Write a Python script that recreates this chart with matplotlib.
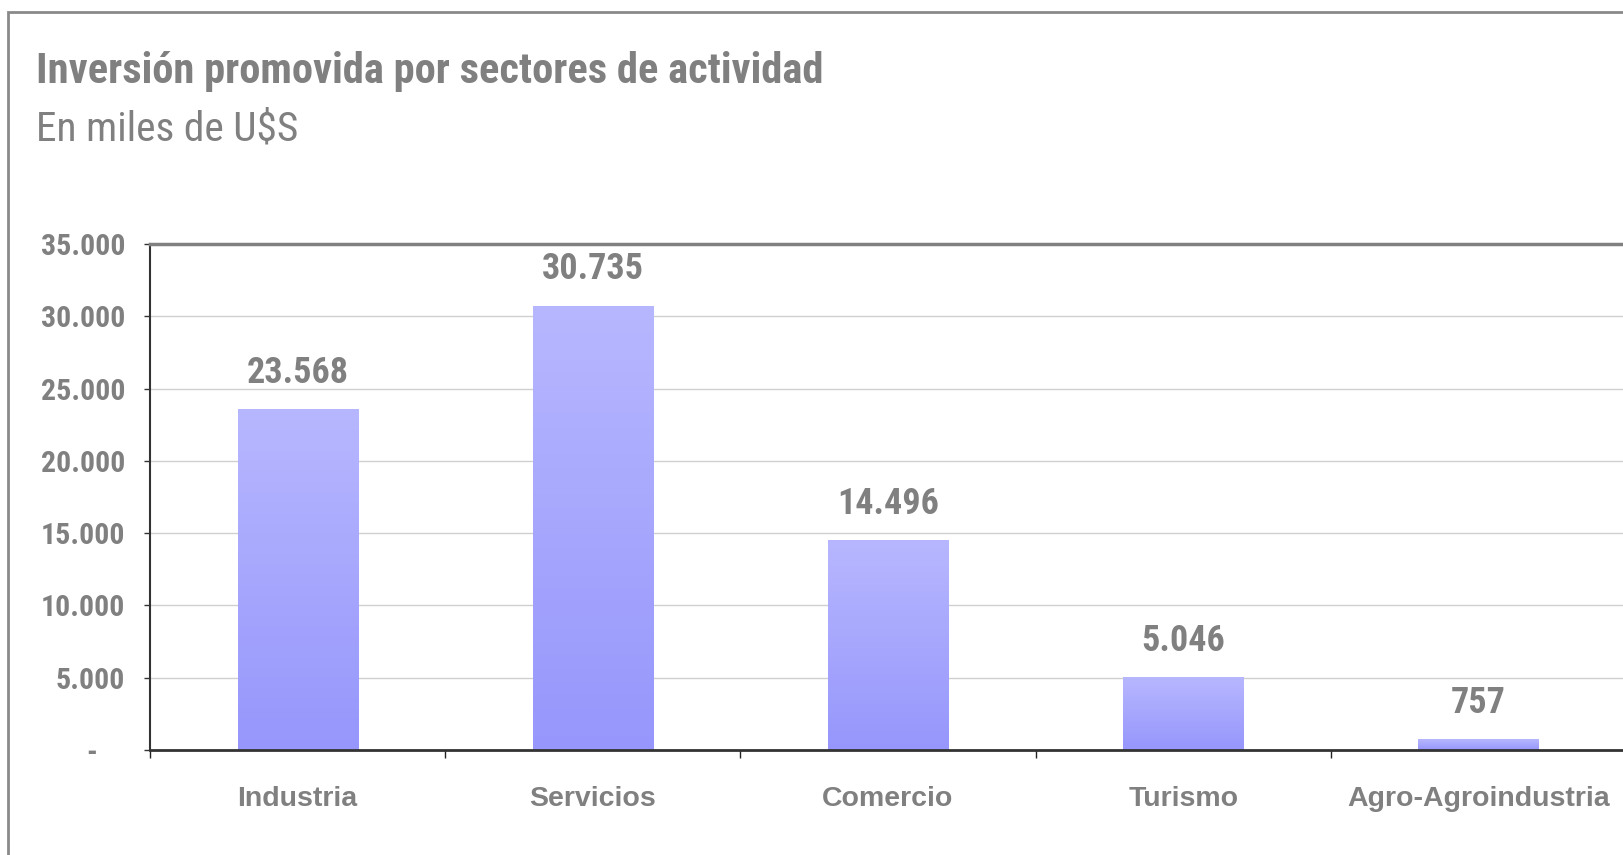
import matplotlib
matplotlib.use("Agg")
import matplotlib.pyplot as plt
import numpy as np
from matplotlib import font_manager
from matplotlib.colors import LinearSegmentedColormap
from matplotlib.patches import Rectangle

categories = ["Industria", "Servicios", "Comercio", "Turismo", "Agro-Agroindustria"]
values = [23568, 30735, 14496, 5046, 757]
value_labels = ["23.568", "30.735", "14.496", "5.046", "757"]
yticks = [0, 5000, 10000, 15000, 20000, 25000, 30000, 35000]
ytick_labels = ["-    ", "5.000", "10.000", "15.000", "20.000", "25.000", "30.000", "35.000"]
title = "Inversión promovida por sectores de actividad"
subtitle = "En miles de U$S"

names = {f.name for f in font_manager.fontManager.ttflist}
narrow = "Roboto Condensed" if "Roboto Condensed" in names else "Liberation Sans"
wide = "Liberation Sans"

GRAY = "#808080"
fig = plt.figure(figsize=(16.23, 8.55), dpi=100)
W, H = 1623, 855

# outer frame
fig.patches.append(Rectangle((8 / W, -0.05), 1.1, 1 - 12 / H + 0.05, transform=fig.transFigure,
                             fill=False, edgecolor="#8a8a8a", linewidth=2.0, zorder=0))

ax = fig.add_axes([150 / W, 1 - 750 / H, 1476 / W, 506 / H])
x = np.arange(len(categories))
bw = 0.407
bars = ax.bar(x, values, width=bw, color="none", edgecolor="none", zorder=2)
cmap = LinearSegmentedColormap.from_list("g", ["#9696fc", "#b7b7ff"])
grad = np.linspace(0, 1, 256).reshape(-1, 1)
for b in bars:
    x0, w, h = b.get_x(), b.get_width(), b.get_height()
    im = ax.imshow(grad, extent=[x0, x0 + w, 0, h], origin="lower", aspect="auto",
                   cmap=cmap, zorder=2, interpolation="bicubic")
    im.set_clip_path(b)

for xi, v, lab in zip(x, values, value_labels):
    ax.annotate(lab, (xi, v), xytext=(0, 19), textcoords="offset points", ha="center",
                va="baseline", fontsize=26, fontweight="bold", color=GRAY, family=narrow)

ax.set_xlim(-0.5, len(categories) - 0.5)
ax.set_ylim(0, 35000)
ax.set_yticks(yticks)
ax.set_yticklabels(ytick_labels)
ax.yaxis.grid(True, color="#d0d0d0", linewidth=1.0, zorder=0)
ax.set_axisbelow(True)
ax.tick_params(axis="y", direction="out", length=4, width=1, color="#333333", pad=14,
               labelsize=21.5, labelcolor=GRAY)
for t in ax.get_yticklabels():
    t.set_fontweight("bold")
    t.set_family(narrow)

ax.set_xticks(x)
ax.set_xticklabels(categories)
ax.set_xticks(np.arange(-0.5, len(categories), 1.0), minor=True)
ax.tick_params(axis="x", which="major", length=0, pad=26, labelsize=20.5, labelcolor=GRAY)
ax.tick_params(axis="x", which="minor", direction="out", length=6, width=1, color="#222222")
for t in ax.get_xticklabels():
    t.set_fontweight("bold")
    t.set_family(wide)

ax.spines["right"].set_visible(False)
ax.spines["top"].set_color("#808080")
ax.spines["top"].set_linewidth(2.5)
ax.spines["left"].set_color("#333333")
ax.spines["left"].set_linewidth(1.5)
ax.spines["bottom"].set_color("#333333")
ax.spines["bottom"].set_linewidth(2.0)

fig.text(36 / W, 1 - 83 / H, title, fontsize=30.6, fontweight="bold", color=GRAY,
         family=narrow, va="baseline", ha="left")
fig.text(36 / W, 1 - 140 / H, subtitle, fontsize=29.8, color=GRAY,
         family=narrow, va="baseline", ha="left")

fig.savefig("out.png", dpi=100)
